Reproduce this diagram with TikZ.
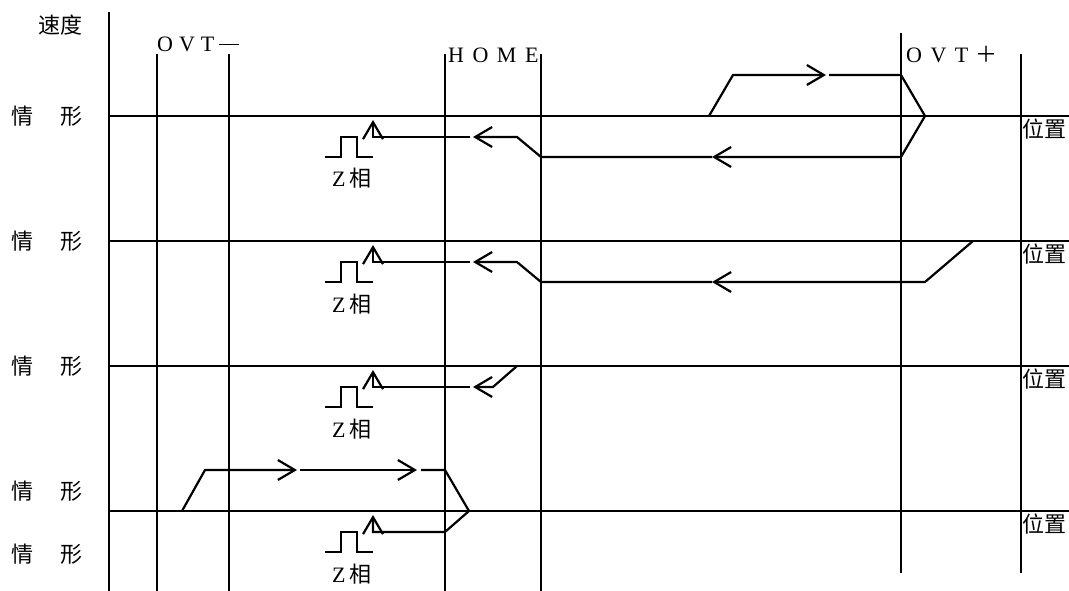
\documentclass[tikz,border=0pt]{standalone}
\usepackage{fontspec}
\newfontfamily\cjk{Noto Sans CJK SC}
\newfontfamily\lat{Liberation Serif}
\usetikzlibrary{arrows.meta}

\begin{document}
\begin{tikzpicture}[x=1pt,y=-1pt,>={Straight Barb[length=17pt,width=20pt]},
                    axis/.style={line width=1.6pt},
                    move/.style={line width=2.2pt},
                    lbl/.style={font=\cjk\fontsize{22}{24}\selectfont,inner sep=0pt},
                    sig/.style={font=\lat\fontsize{22}{24}\selectfont,inner sep=0pt,anchor=base west}]

  \useasboundingbox (0,0) rectangle (1069,591);

  % axes and limit lines
  \draw[axis] (109,12) -- (109,591);
  \foreach \x in {157,229,445,541} \draw[axis] (\x,54) -- (\x,591);
  \draw[axis] (901,33) -- (901,573);
  \draw[axis] (1021,54) -- (1021,573);
  \foreach \y in {116,241,366,511} \draw[axis] (109,\y) -- (1069,\y);

  % labels
  \node[lbl] (speed) at (60,25) {速度};
  \foreach \y [count=\i] in {116,241,366,491,554} {
    \node[lbl] (qing\i) at (23,\y) {情};
    \node[lbl] (xing\i) at (71,\y) {形};
  }
  \foreach \y [count=\i] in {129,254,379,524}
    \node[lbl,anchor=west] (pos\i) at (1022,\y) {位置};

  \node[sig] (ovtm) at (157,52) {O\hspace{6pt}V\hspace{6pt}T\hspace{5pt}\rule[7pt]{20pt}{1.2pt}};
  \node[sig] (home) at (448,63) {H\hspace{8.5pt}O\hspace{8.5pt}M\hspace{8.5pt}E};
  \node[sig] (ovtp) at (906,63) {O\hspace{8.5pt}V\hspace{8.5pt}T\hspace{7pt}{\cjk ＋}};

  % Z phase pulses
  \foreach \y [count=\i] in {116,241,366,511} {
    \draw[axis] (325,\y+41) -- (341,\y+41) -- (341,\y+21) -- (357,\y+21)
                -- (357,\y+41) -- (373,\y+41);
    \node[sig] (z\i) at (332,\y+71) {Z\hspace{4pt}{\cjk 相}};
  }

  % case 1
  \draw[move,->] (709,116) -- (733,75) -- (826,75);
  \draw[move,->] (829,75) -- (901,75) -- (925,116) -- (901,157) -- (712,157);
  \draw[move,->] (712,157) -- (541,157) -- (517,137) -- (473,137);
  \draw[move,->] (470,137) -- (373,137) -- (373,120);

  % case 2
  \draw[move,->] (973,241) -- (925,282) -- (712,282);
  \draw[move,->] (712,282) -- (541,282) -- (517,262) -- (473,262);
  \draw[move,->] (470,262) -- (373,262) -- (373,245);

  % case 3
  \draw[move,->] (517,366) -- (493,387) -- (473,387);
  \draw[move,->] (470,387) -- (373,387) -- (373,370);

  % case 4
  \draw[move,->] (182,511) -- (205,470) -- (297,470);
  \draw[move,->] (300,470) -- (417,470);
  \draw[move,->] (421,470) -- (445,470) -- (469,511) -- (445,532)
                 -- (373,532) -- (373,515);
\end{tikzpicture}
\end{document}
